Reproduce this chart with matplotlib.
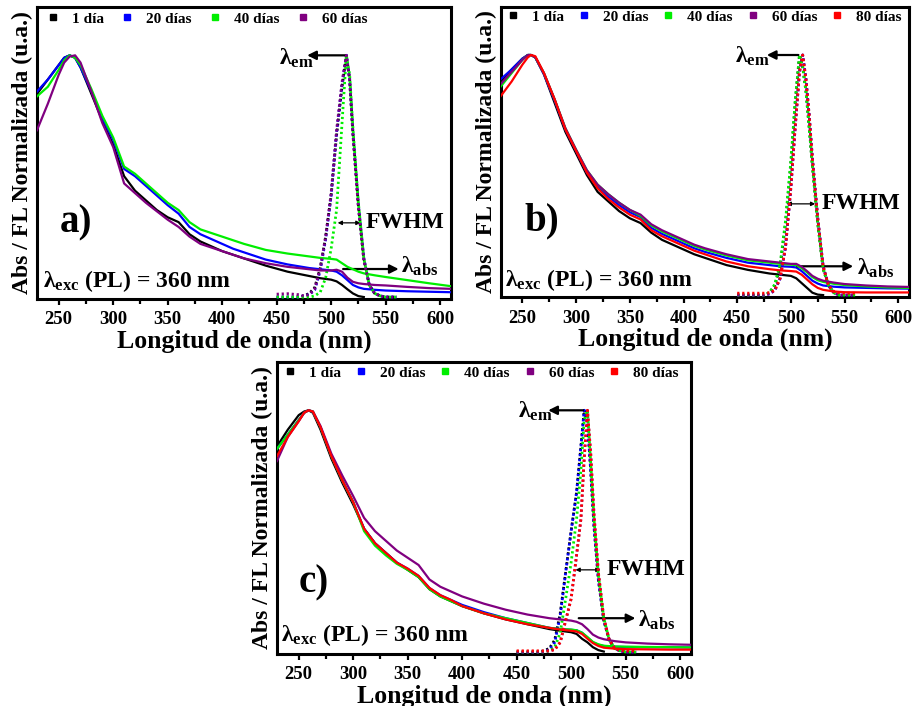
import numpy as np
import matplotlib
matplotlib.use('Agg')
import matplotlib.pyplot as plt
from matplotlib.lines import Line2D
from matplotlib.ticker import MultipleLocator

plt.rcParams['font.family'] = ['Liberation Serif', 'DejaVu Serif']
plt.rcParams['font.weight'] = 'bold'
plt.rcParams['axes.labelweight'] = 'bold'
plt.rcParams['mathtext.fontset'] = 'custom'
plt.rcParams['mathtext.rm'] = 'Liberation Serif:bold'
plt.rcParams['mathtext.bf'] = 'Liberation Serif:bold'
plt.rcParams['mathtext.it'] = 'Liberation Serif:bold:italic'

nan = np.nan

labels = ['1 día', '20 días', '40 días', '60 días', '80 días']
colors = ['#000000', '#0000ff', '#00ee00', '#800080', '#ff0000']

# ---------------- a) ----------------
wl_abs_a = [230, 240, 250, 255, 260, 265, 270,
            280, 290, 300, 310, 320, 330, 340, 350, 360, 370,
            380, 390, 400, 410, 420,
            440, 460, 480, 490, 500,
            505, 510, 515, 520, 525, 530,
            540, 550, 570, 590, 610]
abs_a_1 = [0.84, 0.90, 0.96, 0.99, 1.0, 0.99, 0.95,
           0.84, 0.73, 0.63, 0.50, 0.44, 0.40, 0.36, 0.33, 0.31, 0.26,
           0.23, 0.21, 0.19, 0.175, 0.16,
           0.13, 0.105, 0.087, 0.078, 0.072,
           0.065, 0.05, 0.032, 0.015, 0.004, 0.0,
           nan, nan, nan, nan, nan]
abs_a_20 = [0.85, 0.90, 0.96, 0.99, 1.0, 0.99, 0.95,
            0.85, 0.74, 0.65, 0.53, 0.50, 0.46, 0.42, 0.38, 0.345, 0.29,
            0.26, 0.24, 0.22, 0.20, 0.185,
            0.155, 0.135, 0.12, 0.115, 0.11,
            0.105, 0.09, 0.07, 0.05, 0.04, 0.034,
            0.03, 0.027, 0.024, 0.022, 0.02]
abs_a_40 = [0.83, 0.87, 0.94, 0.98, 1.0, 0.99, 0.96,
            0.86, 0.75, 0.66, 0.54, 0.51, 0.47, 0.43, 0.39, 0.36, 0.31,
            0.28, 0.265, 0.25, 0.235, 0.22,
            0.195, 0.18, 0.168, 0.162, 0.158,
            0.155, 0.14, 0.125, 0.115, 0.105, 0.098,
            0.09, 0.083, 0.07, 0.057, 0.045]
abs_a_60 = [0.69, 0.80, 0.92, 0.97, 0.995, 1.0, 0.97,
            0.85, 0.72, 0.62, 0.47, 0.43, 0.39, 0.355, 0.32, 0.29, 0.25,
            0.22, 0.205, 0.19, 0.175, 0.16,
            0.14, 0.125, 0.115, 0.11, 0.11,
            0.113, 0.105, 0.08, 0.063, 0.057, 0.054,
            0.05, 0.048, 0.042, 0.037, 0.034]

wl_pl_a = [450, 460, 470, 475, 480, 485, 490, 495, 500, 505, 510,
           514, 517, 520, 525, 530, 535, 540, 545, 550, 560]
pl_a_1 = [0, 0, 0, 0.005, 0.015, 0.04, 0.12, 0.25, 0.42, 0.67, 0.87,
          1.0, 0.9, 0.68, 0.38, 0.16, 0.05, 0.015, 0.005, 0, 0]
pl_a_20 = [0, 0, 0, 0.005, 0.01, 0.03, 0.11, 0.24, 0.42, 0.68, 0.88,
           1.0, 0.9, 0.68, 0.38, 0.16, 0.05, 0.015, 0.005, 0, 0]
pl_a_40 = [0, 0, 0, 0, 0, 0.005, 0.02, 0.08, 0.2, 0.36, 0.72,
           1.0, 0.92, 0.7, 0.39, 0.16, 0.05, 0.015, 0.005, 0, 0]
pl_a_60 = [0.012, 0.014, 0.01, 0.005, 0.01, 0.035, 0.12, 0.25, 0.43, 0.69, 0.89,
           1.0, 0.9, 0.67, 0.37, 0.15, 0.05, 0.015, 0.005, 0, 0]

# ---------------- b) ----------------
wl_abs_b = [230, 240, 250, 255, 258, 262, 270,
            280, 290, 300, 310, 320, 330, 340, 350, 360, 370,
            380, 390, 400, 410, 420,
            440, 460, 480, 490, 500,
            505, 510, 515, 520, 525, 530,
            540, 550, 570, 590, 610]
abs_b_1 = [0.89, 0.94, 0.985, 1.0, 1.0, 0.99, 0.92,
           0.80, 0.68, 0.59, 0.50, 0.43, 0.39, 0.35, 0.32, 0.30, 0.26,
           0.23, 0.21, 0.19, 0.17, 0.155,
           0.125, 0.105, 0.09, 0.085, 0.08,
           0.07, 0.05, 0.03, 0.01, 0.002, 0.0,
           nan, nan, nan, nan, nan]
abs_b_20 = [0.90, 0.94, 0.985, 1.0, 1.0, 0.99, 0.92,
            0.81, 0.69, 0.60, 0.51, 0.45, 0.41, 0.375, 0.345, 0.325, 0.28,
            0.255, 0.235, 0.215, 0.195, 0.18,
            0.155, 0.135, 0.125, 0.12, 0.118,
            0.115, 0.1, 0.08, 0.06, 0.048, 0.04,
            0.035, 0.032, 0.03, 0.028, 0.027]
abs_b_40 = [0.87, 0.925, 0.98, 1.0, 1.0, 0.99, 0.925,
            0.815, 0.695, 0.605, 0.52, 0.46, 0.42, 0.385, 0.355, 0.33, 0.29,
            0.265, 0.245, 0.225, 0.205, 0.19,
            0.165, 0.145, 0.135, 0.13, 0.127,
            0.125, 0.112, 0.095, 0.075, 0.062, 0.055,
            0.047, 0.042, 0.036, 0.032, 0.03]
abs_b_60 = [0.88, 0.93, 0.98, 1.0, 1.0, 0.99, 0.925,
            0.815, 0.695, 0.605, 0.52, 0.46, 0.42, 0.385, 0.355, 0.335, 0.295,
            0.27, 0.25, 0.23, 0.21, 0.195,
            0.17, 0.15, 0.14, 0.135, 0.13,
            0.13, 0.118, 0.1, 0.08, 0.068, 0.06,
            0.052, 0.046, 0.04, 0.036, 0.034]
abs_b_80 = [0.83, 0.89, 0.96, 0.99, 1.0, 0.995, 0.925,
            0.815, 0.69, 0.60, 0.51, 0.445, 0.40, 0.365, 0.335, 0.315, 0.27,
            0.245, 0.225, 0.205, 0.185, 0.17,
            0.14, 0.12, 0.108, 0.103, 0.1,
            0.098, 0.085, 0.065, 0.045, 0.03, 0.022,
            0.015, 0.012, 0.011, 0.011, 0.011]

wl_pl_b = [450, 460, 470, 475, 480, 485, 490, 495, 500, 504, 508,
           511, 514, 517, 520, 525, 530, 535, 540, 545, 550, 560]
pl_b_1 = [0, 0, 0, 0, 0.01, 0.04, 0.12, 0.3, 0.55, 0.8, 1.0,
          0.95, 0.85, 0.7, 0.54, 0.3, 0.11, 0.04, 0.01, 0, 0, 0]
pl_b_20 = [0, 0, 0, 0, 0.005, 0.02, 0.07, 0.2, 0.45, 0.7, 0.93,
           1.0, 0.9, 0.75, 0.57, 0.32, 0.12, 0.04, 0.01, 0, 0, 0]
pl_b_40 = [0, 0, 0, 0, 0.01, 0.045, 0.13, 0.31, 0.56, 0.81, 1.0,
           0.95, 0.85, 0.7, 0.54, 0.3, 0.11, 0.04, 0.01, 0, 0, 0]
pl_b_60 = [0, 0, 0, 0, 0.005, 0.02, 0.07, 0.2, 0.45, 0.7, 0.93,
           1.0, 0.9, 0.75, 0.57, 0.32, 0.12, 0.04, 0.01, 0, 0, 0]
pl_b_80 = [0.008, 0.008, 0.008, 0.008, 0.01, 0.02, 0.07, 0.2, 0.45, 0.7, 0.93,
           1.0, 0.9, 0.75, 0.57, 0.32, 0.12, 0.04, 0.015, 0.01, 0.008, 0.008]

# ---------------- c) ----------------
wl_abs_c = [230, 240, 250, 255, 259, 263, 270,
            280, 290, 300, 310, 320, 330, 340, 350, 360, 370,
            380, 390, 400, 410, 420,
            440, 460, 480, 490, 500,
            505, 510, 515, 520, 525, 530,
            540, 550, 570, 590, 610]
abs_c_1 = [0.85, 0.92, 0.98, 0.995, 1.0, 0.99, 0.92,
           0.80, 0.70, 0.61, 0.51, 0.45, 0.41, 0.37, 0.34, 0.31, 0.26,
           0.23, 0.21, 0.19, 0.175, 0.16,
           0.135, 0.115, 0.095, 0.088, 0.082,
           0.075, 0.055, 0.04, 0.02, 0.008, 0.002,
           nan, nan, nan, nan, nan]
abs_c_20 = [0.84, 0.90, 0.96, 0.99, 1.0, 0.995, 0.93,
            0.81, 0.71, 0.62, 0.51, 0.45, 0.41, 0.37, 0.345, 0.315, 0.265,
            0.235, 0.215, 0.195, 0.18, 0.165,
            0.14, 0.12, 0.1, 0.095, 0.092,
            0.09, 0.08, 0.06, 0.04, 0.03, 0.025,
            0.022, 0.021, 0.02, 0.02, 0.019]
abs_c_40 = [0.84, 0.90, 0.96, 0.99, 1.0, 0.995, 0.93,
            0.81, 0.71, 0.62, 0.50, 0.44, 0.40, 0.365, 0.34, 0.31, 0.26,
            0.23, 0.21, 0.19, 0.175, 0.16,
            0.14, 0.12, 0.1, 0.095, 0.093,
            0.09, 0.08, 0.062, 0.042, 0.032, 0.026,
            0.023, 0.022, 0.021, 0.02, 0.019]
abs_c_60 = [0.79, 0.89, 0.955, 0.99, 1.0, 0.995, 0.935,
            0.82, 0.73, 0.645, 0.555, 0.50, 0.46, 0.42, 0.39, 0.36, 0.30,
            0.27, 0.25, 0.23, 0.215, 0.2,
            0.175, 0.155, 0.14, 0.135, 0.13,
            0.125, 0.115, 0.095, 0.072, 0.06, 0.053,
            0.045, 0.04, 0.035, 0.032, 0.03]
abs_c_80 = [0.81, 0.89, 0.955, 0.99, 1.0, 0.995, 0.93,
            0.81, 0.71, 0.62, 0.51, 0.45, 0.41, 0.37, 0.345, 0.315, 0.265,
            0.235, 0.215, 0.19, 0.175, 0.16,
            0.135, 0.115, 0.1, 0.093, 0.088,
            0.085, 0.075, 0.055, 0.037, 0.025, 0.018,
            0.014, 0.012, 0.011, 0.01, 0.01]

wl_pl_c = [450, 460, 470, 475, 480, 485, 490, 495, 500, 505, 509,
           512, 515, 518, 521, 525, 530, 535, 540, 545, 550, 560]
pl_c_1 = [0, 0, 0, 0.005, 0.015, 0.05, 0.16, 0.33, 0.5, 0.66, 0.85,
          1.0, 0.95, 0.75, 0.52, 0.3, 0.13, 0.05, 0.015, 0.005, 0, 0]
pl_c_20 = [0, 0, 0, 0.002, 0.01, 0.04, 0.15, 0.33, 0.5, 0.66, 0.85,
           1.0, 0.95, 0.75, 0.52, 0.3, 0.13, 0.05, 0.015, 0.005, 0, 0]
pl_c_40 = [0, 0, 0, 0, 0.005, 0.02, 0.08, 0.22, 0.37, 0.55, 0.75,
           0.96, 1.0, 0.78, 0.55, 0.32, 0.14, 0.05, 0.015, 0.005, 0, 0]
pl_c_60 = [0, 0, 0, 0, 0.005, 0.01, 0.04, 0.13, 0.22, 0.4, 0.55,
           0.8, 1.0, 0.82, 0.57, 0.33, 0.14, 0.05, 0.015, 0.005, 0, 0]
pl_c_80 = [0.005, 0.005, 0.005, 0.005, 0.005, 0.01, 0.04, 0.13, 0.22, 0.4, 0.55,
           0.8, 1.0, 0.82, 0.57, 0.33, 0.14, 0.05, 0.015, 0.008, 0.005, 0.005]


def draw_panel(rect, tag, wl_abs, abs_list, wl_pl, pl_list, notes, leg_x, leg_y, colsp):
    ax = fig.add_axes(rect)
    n = len(abs_list)
    for i in range(n):
        ax.plot(wl_abs, abs_list[i], color=colors[i], lw=1.6, zorder=2 + i)
        ax.plot(wl_pl, pl_list[i], color=colors[i], lw=2.0,
                linestyle=(0, (0.8, 1.0)), zorder=2 + i)

    ax.set_xlim(230, 610)
    ax.set_ylim(-0.008, 1.2)
    ax.xaxis.set_major_locator(MultipleLocator(50))
    ax.xaxis.set_minor_locator(MultipleLocator(25))
    ax.set_yticks([])
    ax.tick_params(axis='x', which='both', direction='out', width=1.6, labelsize=13.5, pad=4.5)
    ax.tick_params(axis='x', which='major', length=4.5)
    ax.tick_params(axis='x', which='minor', length=3.5)
    for s in ax.spines.values():
        s.set_linewidth(2.2)
    ax.set_xlabel('Longitud de onda (nm)', fontsize=18.5, labelpad=0.5)
    ax.set_ylabel('Abs / FL Normalizada (u.a.)', fontsize=17, labelpad=3)

    handles = [Line2D([], [], marker='s', ls='none', color=colors[i], markersize=5)
               for i in range(n)]
    ax.legend(handles, labels[:n], ncol=n, loc='center left',
              bbox_to_anchor=(leg_x, leg_y), frameon=False, fontsize=11,
              handlelength=0.6, handletextpad=0.95, columnspacing=colsp,
              borderpad=0, borderaxespad=0)

    ax.text(notes['tag'][0], notes['tag'][1], tag + ')', fontsize=28,
            ha='left', va='center')
    ax.text(notes['exc'][0], notes['exc'][1],
            r'$\mathregular{λ_{exc}}$ (PL) = 360 nm', fontsize=17,
            ha='left', va='baseline')

    x0, x1, y = notes['em_arrow']
    ax.annotate('', xy=(x1, y), xytext=(x0, y),
                arrowprops=dict(arrowstyle='-|>', color='k', lw=1.6,
                                mutation_scale=13, shrinkA=0, shrinkB=0))
    ax.text(notes['em_text'][0], notes['em_text'][1], r'$\mathregular{λ_{em}}$',
            fontsize=17, ha='right', va='baseline')

    x0, x1, y = notes['fwhm']
    ax.annotate('', xy=(x1, y), xytext=(x0, y),
                arrowprops=dict(arrowstyle='<|-|>', color='k', lw=0.9,
                                mutation_scale=6, shrinkA=0, shrinkB=0))
    ax.text(notes['fwhm_text'], y, 'FWHM', fontsize=17, ha='left', va='center')

    x0, x1, y = notes['abs_arrow']
    ax.annotate('', xy=(x1, y), xytext=(x0, y),
                arrowprops=dict(arrowstyle='-|>', color='k', lw=1.6,
                                mutation_scale=13, shrinkA=0, shrinkB=0))
    ax.text(notes['abs_text'][0], notes['abs_text'][1], r'$\mathregular{λ_{abs}}$',
            fontsize=17, ha='left', va='baseline')
    return ax


fig = plt.figure(figsize=(9.17, 7.06), dpi=100)

draw_panel([0.0403, 0.5765, 0.4515, 0.4136], 'a', wl_abs_a,
           [abs_a_1, abs_a_20, abs_a_40, abs_a_60], wl_pl_a,
           [pl_a_1, pl_a_20, pl_a_40, pl_a_60],
           {'tag': (251, 0.307), 'exc': (235.5, 0.04),
            'em_arrow': (513, 478, 1.0), 'em_text': (484, 0.96),
            'fwhm': (506, 527, 0.307), 'fwhm_text': 532,
            'abs_arrow': (511, 562, 0.116), 'abs_text': (564, 0.10)},
           0.027, 0.959, 1.22)

draw_panel([0.5463, 0.5793, 0.445, 0.4108], 'b', wl_abs_b,
           [abs_b_1, abs_b_20, abs_b_40, abs_b_60, abs_b_80], wl_pl_b,
           [pl_b_1, pl_b_20, pl_b_40, pl_b_60, pl_b_80],
           {'tag': (252, 0.31), 'exc': (233.5, 0.037),
            'em_arrow': (507, 477.6, 1.0), 'em_text': (480, 0.967),
            'fwhm': (496, 522.7, 0.38), 'fwhm_text': 529,
            'abs_arrow': (505.6, 558, 0.12), 'abs_text': (562, 0.087)},
           0.0176, 0.966, 1.0)

draw_panel([0.302, 0.0737, 0.4515, 0.4136], 'c', wl_abs_c,
           [abs_c_1, abs_c_20, abs_c_40, abs_c_60, abs_c_80], wl_pl_c,
           [pl_c_1, pl_c_20, pl_c_40, pl_c_60, pl_c_80],
           {'tag': (250, 0.285), 'exc': (234, 0.044),
            'em_arrow': (511, 479, 1.0), 'em_text': (483.5, 0.97),
            'fwhm': (504, 527, 0.34), 'fwhm_text': 533,
            'abs_arrow': (507, 559, 0.14), 'abs_text': (561.7, 0.105)},
           0.02, 0.963, 1.0)

fig.savefig('out.png', dpi=100)
